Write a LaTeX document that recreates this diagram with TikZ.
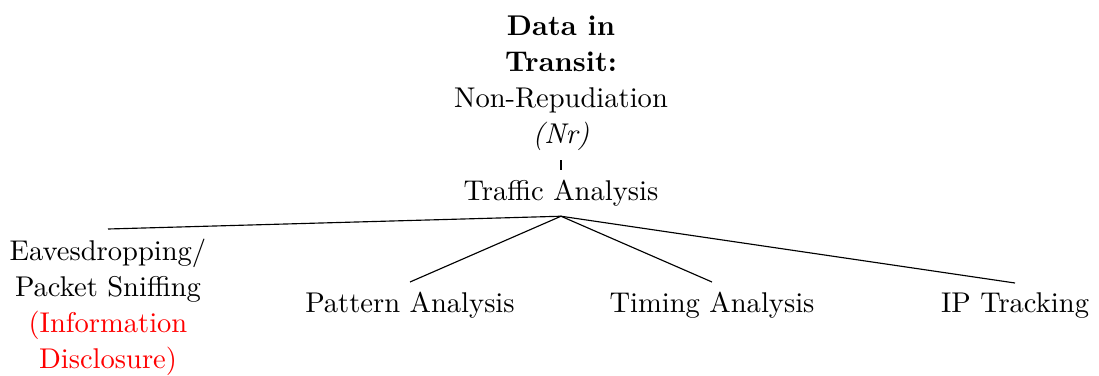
\documentclass[tikz,border=0pt]{standalone}
\usetikzlibrary{positioning}

\begin{document}
\begin{tikzpicture}[x=0.3503pt, y=-0.3503pt,
    every node/.style={align=center},
    leaf/.style={anchor=north},
    branch/.style={draw=black}]
    \useasboundingbox (0,0) rectangle (1099,376);

    % Root and middle level
    \node (root) at (561,83)
        {\textbf{Data in}\\[0.6pt] \textbf{Transit:}\\[0.6pt] Non-Repudiation\\[0.6pt] \textit{(Nr)}};
    \node (traffic) at (561,193) {Traffic Analysis};

    % Leaves
    \node[leaf] (sniff) at (108,229)
        {Eavesdropping/\\[0.6pt] Packet Sniffing\\[0.6pt] \textcolor{red}{(Information}\\[0.6pt] \textcolor{red}{Disclosure)}};
    \node[leaf] (pattern) at (410,282) {Pattern Analysis};
    \node[leaf] (timing) at (712,282) {Timing Analysis};
    \node[leaf] (ip) at (1015,283) {IP Tracking};

    % Edges
    \draw[branch] (root.south) -- (traffic.north);
    \foreach \child in {sniff, pattern, timing, ip}
        \draw[branch] (traffic.south) -- (\child.north);
\end{tikzpicture}
\end{document}
